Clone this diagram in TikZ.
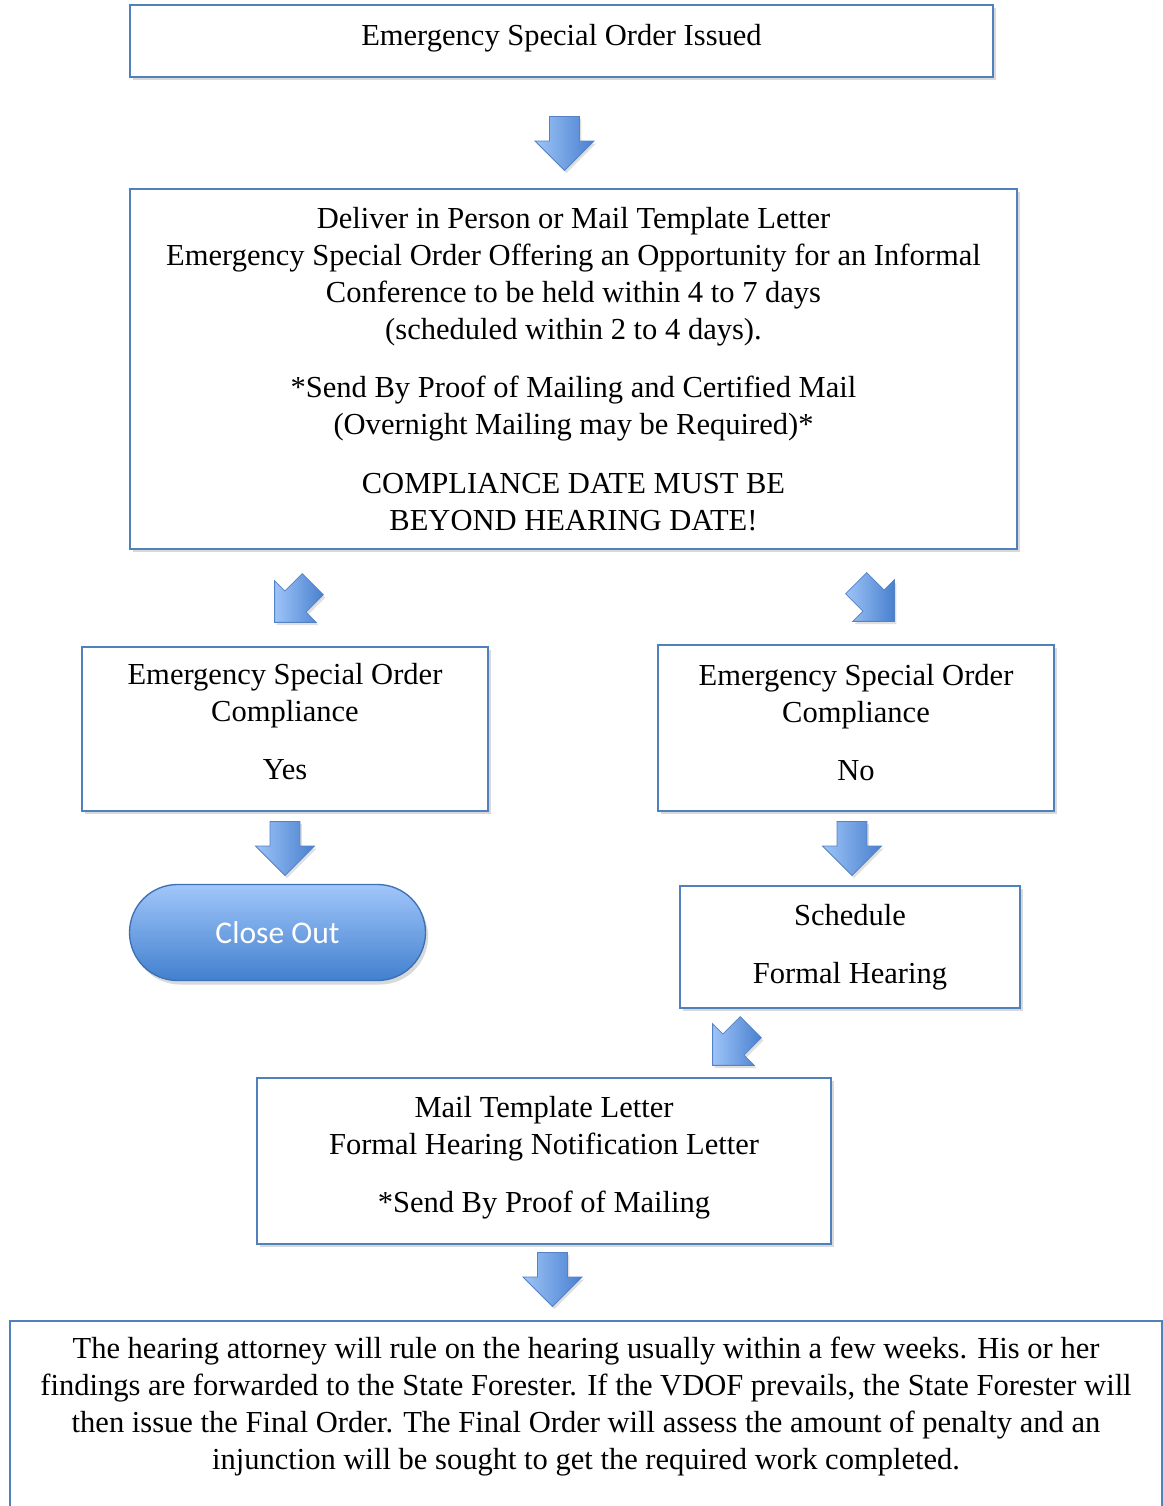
\documentclass[tikz,border=0pt]{standalone}
\usepackage{fontspec}
\setmainfont{Liberation Serif}
\newfontfamily\closefont{Carlito}
\usepackage{xcolor}
\usepackage{tikz}
\usetikzlibrary{shapes.arrows, shadows, positioning}
\definecolor{boxline}{RGB}{79, 129, 189}
\definecolor{arrowlight}{RGB}{158, 196, 248}
\definecolor{arrowdark}{RGB}{72, 128, 206}
\definecolor{arrowline}{RGB}{84, 130, 196}
\definecolor{closetop}{RGB}{160, 198, 250}
\definecolor{closebottom}{RGB}{66, 128, 206}
\definecolor{closeline}{RGB}{62, 112, 182}

\tikzset{
  stepbox/.style={draw=boxline, line width=1.5pt, fill=white, align=center,
    inner sep=0pt, font=\fontsize{22.9}{27.75}\selectfont,
    drop shadow={shadow xshift=2pt, shadow yshift=-2.5pt, opacity=0.3}},
  blockarrow/.style={single arrow, draw=arrowline, line width=0.6pt,
    left color=arrowlight, right color=arrowdark,
    minimum height=40.5pt, inner sep=10.9pt, single arrow head extend=10.9pt,
    drop shadow={shadow xshift=1.5pt, shadow yshift=-2pt, opacity=0.25}},
  closebox/.style={draw=closeline, line width=1pt, rounded corners=36pt,
    top color=closetop, bottom color=closebottom, text=white,
    font=\closefont\fontsize{23.7}{28}\selectfont,
    drop shadow={shadow xshift=2pt, shadow yshift=-3pt, opacity=0.3}}
}

\begin{document}
\begin{tikzpicture}[x=0.75pt, y=-0.75pt]

\useasboundingbox (0,0) rectangle (1163,1506);
\clip (0,0) rectangle (1163,1506);

% Order issued
\node[stepbox, minimum width=647pt, minimum height=54pt, text depth=9.5pt] (issued)
  at (561.5, 41) {Emergency Special Order Issued};

% Delivery of the order
\node[stepbox, minimum width=665pt, minimum height=270pt] (deliver) at (573.5, 369)
  {Deliver in Person or Mail Template Letter\\
   Emergency Special Order Offering an Opportunity for an Informal\\
   Conference to be held within 4 to 7 days\\
   (scheduled within 2 to 4 days).\\[15.75pt]
   *Send By Proof of Mailing and Certified Mail\\
   (Overnight Mailing may be Required)*\\[16pt]
   COMPLIANCE DATE MUST BE\\
   BEYOND HEARING DATE!};

% Compliance yes / no
\node[stepbox, minimum width=304.5pt, minimum height=123pt, text depth=11pt] (yes)
  at (285, 729) {Emergency Special Order\\ Compliance\\[15.75pt] Yes};
\node[stepbox, minimum width=297pt, minimum height=124.5pt, text depth=8.5pt] (no)
  at (856, 728) {Emergency Special Order\\ Compliance\\[15.75pt] No};

% Close out
\node[closebox, minimum width=222pt, minimum height=72pt] (close) at (277.5, 932.5)
  {Close Out};

% Formal hearing
\node[stepbox, minimum width=255pt, minimum height=91.5pt] (schedule) at (850, 947)
  {Schedule\\[15.75pt] Formal Hearing};
\node[stepbox, minimum width=430.5pt, minimum height=124.5pt, text depth=9.5pt] (mail)
  at (544, 1161) {Mail Template Letter\\ Formal Hearing Notification Letter\\[15.75pt]
   *Send By Proof of Mailing};

% Ruling
\node[stepbox, anchor=north, minimum width=864pt, minimum height=160pt,
  inner ysep=12pt, text depth=80pt] (ruling) at (586, 1320)
  {The hearing attorney will rule on the hearing usually within a few weeks. His or her\\
   findings are forwarded to the State Forester. If the VDOF prevails, the State Forester will\\
   then issue the Final Order. The Final Order will assess the amount of penalty and an\\
   injunction will be sought to get the required work completed.};

% Block arrows
\node[blockarrow, rotate=-90] (a1) at (564.5, 136) {};
\node[blockarrow, rotate=-135] (a2) at (299, 598) {};
\node[blockarrow, rotate=-45] (a3) at (870, 597) {};
\node[blockarrow, rotate=-90] (a4) at (285, 841) {};
\node[blockarrow, rotate=-90] (a5) at (852, 841) {};
\node[blockarrow, rotate=-135] (a6) at (737, 1041) {};
\node[blockarrow, rotate=-90] (a7) at (552.5, 1272) {};

\end{tikzpicture}
\end{document}
